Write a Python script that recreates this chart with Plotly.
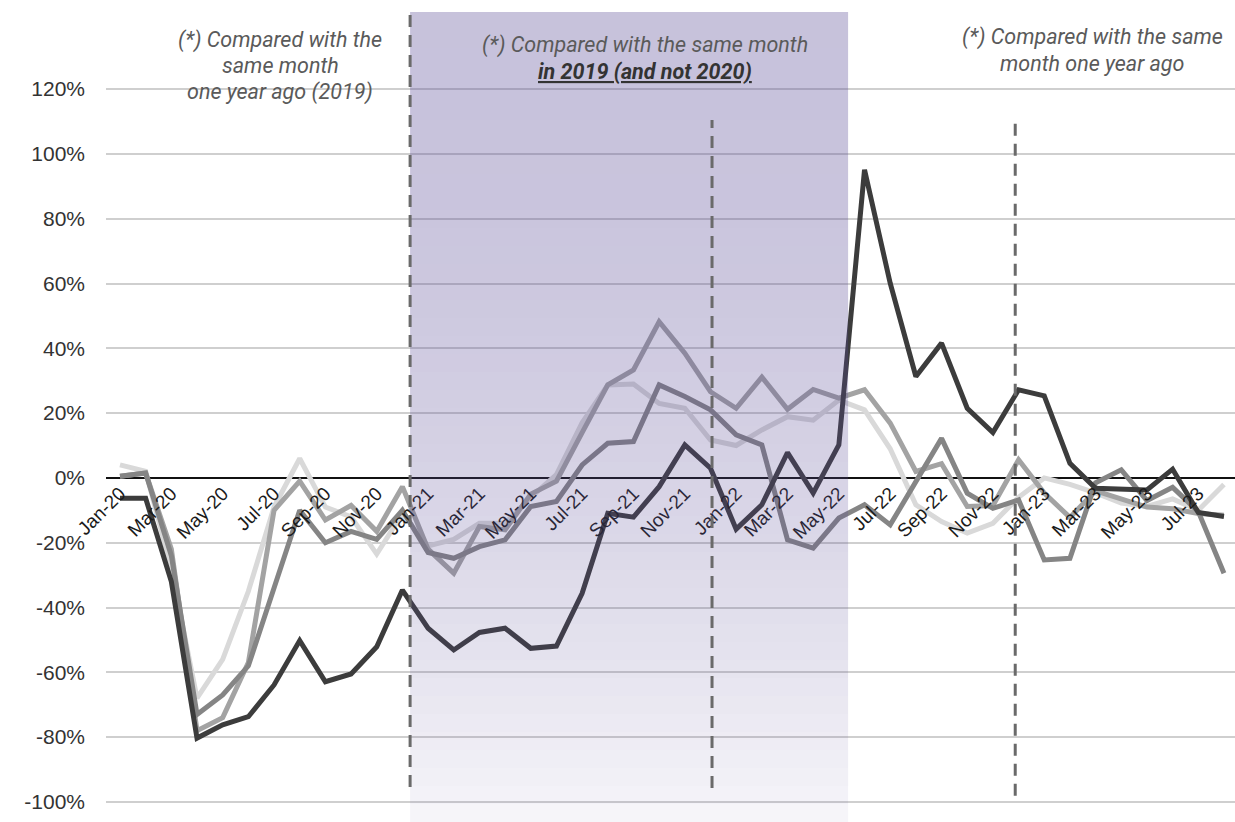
import plotly.graph_objects as go

# month labels Jan-20 .. Aug-23
month_names = ['Jan', 'Feb', 'Mar', 'Apr', 'May', 'Jun', 'Jul', 'Aug', 'Sep', 'Oct', 'Nov', 'Dec']
months = [f'{m}-{y}' for y in ['20', '21', '22', '23'] for m in month_names][:44]

# year-on-year change, %
series_dark = [-6.3, -6.3, -32, -80.3, -76.2, -73.7, -63.9, -50.2, -62.9, -60.5, -52.1, -34.6,
               -46.4, -53.1, -47.7, -46.4, -52.6, -51.9, -35.6, -10.9, -12.1, -2.7, 10.2, 3.0,
               -15.8, -8.3, 7.8, -4.7, 10.2, 95.1, 60.1, 31.3, 41.6, 21.5, 14.0, 27.2,
               25.3, 4.5, -3.2, -3.5, -3.7, 2.7, -10.7, -11.9]
series_mid = [0.5, 1.5, -24, -73, -67, -58, -34, -10, -20, -16.5, -19, -10,
              -23, -24.8, -21.2, -19.1, -8.8, -7.3, 4.0, 10.7, 11.2, 28.7, 25.1, 21,
              13.3, 10.2, -19.1, -21.7, -12.4, -8.3, -14.5, -1.5, 12.2, -4.7, -9.4, -6.8,
              -25.3, -24.8, -1.5, 2.5, -7, -2.9, -10.4, -29.4]
series_lightmid = [0.5, 1.5, -22, -78, -74, -57, -10, -1, -13, -8.5, -16.5, -2.7,
                   -22, -29.4, -15, -16, -5, -1, 14, 28.7, 33.3, 48.2, 38.5, 26.6,
                   21.5, 31.1, 21.2, 27.3, 24.6, 27.2, 16.9, 2.0, 4.4, -8.8, -8.5, 5.6,
                   -4.7, -12.2, -4, -6.5, -9, -9.5, -11, -11.5]
series_light = [4.0, 2.0, -28, -68, -56, -35, -9, 6, -9, -12, -23.5, -11,
                -21, -19, -14, -14, -6, 1, 17, 28.7, 29, 23, 21.5, 11.7,
                10, 14.8, 18.9, 17.8, 24, 21, 9, -8.3, -13.5, -17, -14, -6,
                0, -2, -4.6, -7.8, -8.8, -6.5, -10, -2]

y_ticks = [-100, -80, -60, -40, -20, 0, 20, 40, 60, 80, 100, 120]

W, H = 1235, 822
L, T = 106, 12
plot_w, plot_h = W - L, H - T


def px(x):
    return (x - L) / plot_w


def py(y):
    return (H - y) / plot_h


fig = go.Figure()

lines = [
    (series_light, '#d9d9d9'),
    (series_lightmid, '#a3a3a3'),
    (series_mid, '#858585'),
    (series_dark, '#3c3c3c'),
]
for vals, col in lines:
    fig.add_trace(go.Scatter(
        x=months, y=vals, mode='lines',
        line=dict(color=col, width=5),
        hoverinfo='skip', showlegend=False,
    ))

# shaded period (2021 -> mid 2022), fading purple drawn over the lines
n = 45
for k in range(n):
    t = 1 - (k + 0.5) / n
    a = 0.34 - 0.29 * t * t
    fig.add_shape(type='rect', xref='x', yref='paper',
                  x0=11.3, x1=28.36, y0=k / n, y1=(k + 1) / n,
                  fillcolor=f'rgba(90,75,150,{a:.3f})', line_width=0, layer='above')

# dashed separators
for xv, y0, y1 in [(11.3, -95.4, 145), (23.06, -95.7, 110.5), (34.87, -98.1, 111.7)]:
    fig.add_shape(type='line', xref='x', yref='y', x0=xv, x1=xv, y0=y0, y1=y1,
                  line=dict(color='#6a6a6a', width=3, dash='12px,8px'), layer='above')

# notes, one annotation per line to keep the tight line spacing
note_font = dict(family='Roboto', size=21.5, color='#5a5a5a', style='italic')
notes = [
    (280, 40, '(*) Compared with the'),
    (280, 66, 'same month'),
    (280, 92, 'one year ago (2019)'),
    (645, 45, '(*) Compared with the same month'),
    (645, 71, '<span style="color:#333333"><b><u>in 2019 (and not 2020)</u></b></span>'),
    (1092, 37, '(*) Compared with the same'),
    (1092, 63, 'month one year ago'),
]
for nx, ny, txt in notes:
    fig.add_annotation(xref='paper', yref='paper', x=px(nx), y=py(ny),
                       xanchor='center', yanchor='middle',
                       text=txt, showarrow=False, align='center', font=note_font)

y_min, y_max = -106.2, 143.8
fig.update_layout(
    width=W, height=H,
    margin=dict(l=L, r=0, t=T, b=0),
    paper_bgcolor='white', plot_bgcolor='white',
    showlegend=False,
    xaxis=dict(
        type='category', range=[-0.545, 43.43],
        tickvals=months[::2], ticktext=months[::2],
        tickangle=-45, showgrid=False, showline=False, zeroline=False,
        anchor='free', position=(0 - y_min) / (y_max - y_min),
        tickfont=dict(family='Liberation Sans', size=19, color='#1a1a1a'),
    ),
    yaxis=dict(
        range=[y_min, y_max], tickvals=y_ticks,
        ticktext=[f'{v}%' for v in y_ticks],
        showgrid=True, gridcolor='#cfcfcf', gridwidth=2,
        zeroline=True, zerolinecolor='#111111', zerolinewidth=1.6,
        showline=False, ticklabelstandoff=20,
        tickfont=dict(family='Liberation Sans', size=21, color='#333333'),
    ),
)

# drop the default page margin so the figure fills the window exactly
fig.write_html('out.html', config={'displayModeBar': False},
               post_script="document.body.style.margin='0';")
